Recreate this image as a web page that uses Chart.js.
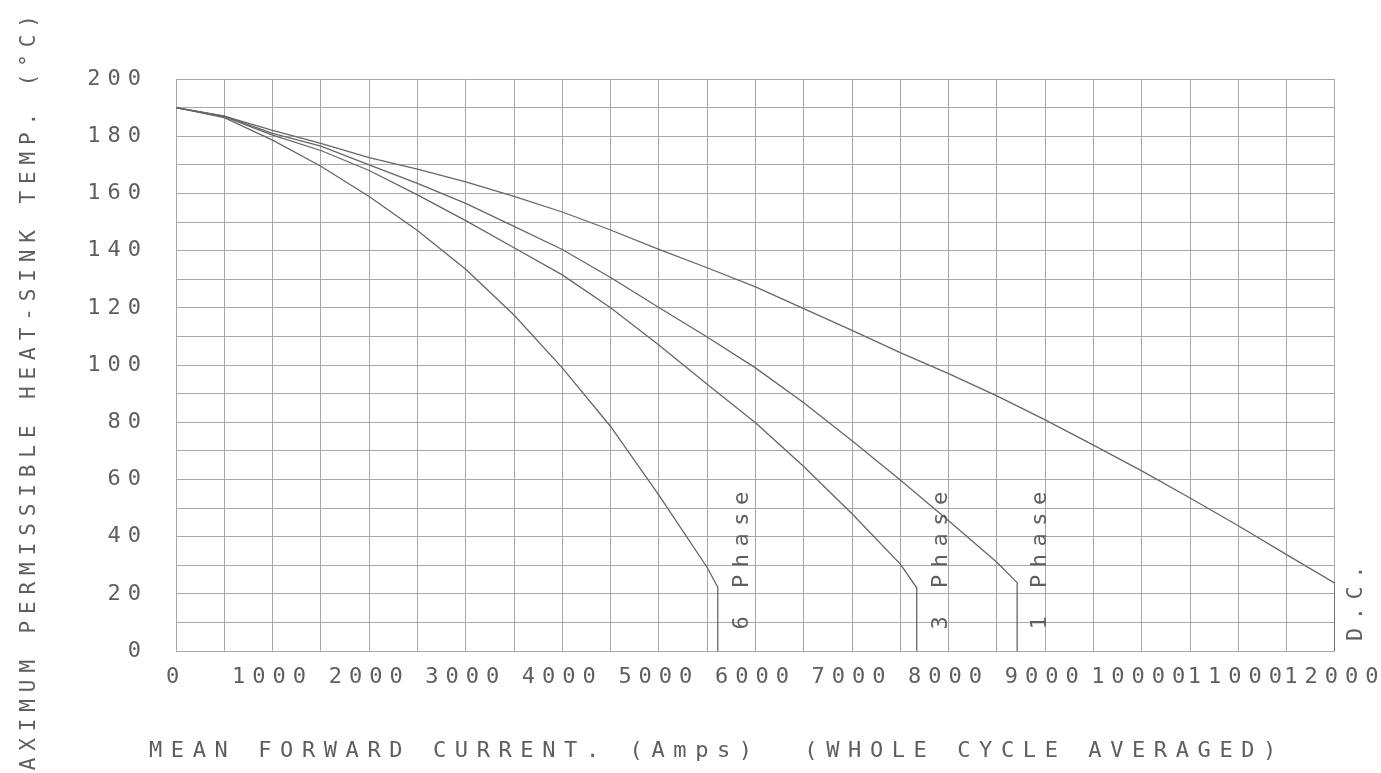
<!DOCTYPE html>
<html>
<head>
<meta charset="utf-8">
<title>Heat-sink temperature vs mean forward current</title>
<script src="https://cdn.jsdelivr.net/npm/chart.js@4.4.1/dist/chart.umd.min.js"></script>
<style>
    html, body { margin: 0; padding: 0; background: #fff; }
    #wrap { width: 1381px; height: 773px; position: relative; }
</style>
</head>
<body>
<div id="wrap"><canvas id="deratingChart" width="1381" height="773"></canvas></div>
<script>
// --- 1. DATA ---
const dcAmps = [0, 500, 1000, 1500, 2000, 2500, 3000, 3500, 4000, 4500, 5000, 5500, 6000, 6500, 7000, 7500, 8000, 8500, 9000, 9500, 10000, 10500, 11000, 11500, 12000, 12000];
const dcTemp = [190, 187, 182, 177.5, 172.5, 168.5, 164, 159, 153.5, 147.2, 140.4, 134, 127.3, 119.7, 112.1, 104.3, 97, 89.2, 80.8, 72, 63, 53.5, 43.8, 33.7, 23.7, 0];

const onePhaseAmps = [0, 500, 1000, 1500, 2000, 2500, 3000, 3500, 4000, 4500, 5000, 5500, 6000, 6500, 7000, 7500, 8000, 8500, 8710, 8710];
const onePhaseTemp = [190, 187, 181, 176.5, 170, 163.5, 156.5, 148.5, 140.4, 130.6, 120.1, 109.8, 99, 86.8, 73.5, 59.8, 45.5, 31, 23.9, 0];

const threePhaseAmps = [0, 500, 1000, 1500, 2000, 2500, 3000, 3500, 4000, 4500, 5000, 5500, 6000, 6500, 7000, 7500, 7670, 7670];
const threePhaseTemp = [190, 186.8, 180.4, 175, 168, 159.5, 150.5, 141, 131.5, 120, 107, 93.3, 79.8, 64.5, 48, 30.4, 22.1, 0];

const sixPhaseAmps = [0, 500, 1000, 1500, 2000, 2500, 3000, 3500, 4000, 4500, 5000, 5500, 5610, 5610];
const sixPhaseTemp = [190, 186.5, 178.6, 169.5, 158.9, 147, 133.5, 117.5, 99, 78.5, 54.5, 29.2, 22.3, 0];

// curve captions, written upwards beside the foot of each curve
const captionText = ['6 Phase', '3 Phase', '1 Phase', 'D.C.'];
const captionAmps = [5860, 7920, 8945, 12225];
const captionTemp = [7.5, 7.5, 7.5, 3.5];

// axis range / ticks
const ampsMin = 0, ampsMax = 12000, ampsStep = 500, ampsLabelEvery = 1000;
const tempMin = 0, tempMax = 200, tempStep = 10, tempLabelEvery = 20;

const xTitle = 'MEAN FORWARD CURRENT. (Amps)  (WHOLE CYCLE AVERAGED)';
const yTitle = 'MAXIMUM PERMISSIBLE HEAT-SINK TEMP. (\u00B0C)';

document.addEventListener('DOMContentLoaded', () => {

    // --- 2. HELPERS ---
    const zip = (xs, ys) => xs.map((x, i) => ({ x: x, y: ys[i] }));
    const PLOT_FONT = '"DejaVu Sans Mono", "Liberation Mono", monospace';
    const INK = '#5e5e5e';
    const LINE = '#666666';
    const GRID = '#a8a8a8';

    const curve = (label, xs, ys) => ({
        label: label,
        data: zip(xs, ys),
        borderColor: LINE,
        borderWidth: 1.3,
        pointRadius: 0,
        tension: 0,
        fill: false
    });

    // --- 3. PLOTTER TEXT (titles + captions) ---
    const plotterText = {
        id: 'plotterText',
        beforeDraw(chart) {
            // widen the tick lettering like the pen plotter did
            chart.ctx.letterSpacing = '7px';
        },
        afterDraw(chart) {
            const ctx = chart.ctx;
            const xs = chart.scales.x;
            const ys = chart.scales.y;

            ctx.save();
            ctx.fillStyle = INK;

            // y title, rotated (runs off the bottom edge like the scan)
            ctx.save();
            ctx.font = '21px ' + PLOT_FONT;
            ctx.letterSpacing = '6.9px';
            ctx.translate(30, 399);
            ctx.rotate(-Math.PI / 2);
            ctx.textAlign = 'center';
            ctx.textBaseline = 'middle';
            ctx.fillText(yTitle, 0, 0);
            ctx.restore();

            // x title
            ctx.save();
            ctx.font = '22px ' + PLOT_FONT;
            ctx.letterSpacing = '8.6px';
            ctx.textAlign = 'left';
            ctx.textBaseline = 'alphabetic';
            ctx.fillText(xTitle, 149, 757);
            ctx.restore();

            // captions next to each curve
            captionText.forEach((txt, i) => {
                const px = xs.getPixelForValue(captionAmps[i]);
                const py = ys.getPixelForValue(captionTemp[i]);
                ctx.save();
                ctx.font = '22px ' + PLOT_FONT;
                ctx.letterSpacing = '7.5px';
                ctx.translate(px, py);
                ctx.rotate(-Math.PI / 2);
                ctx.textAlign = 'left';
                ctx.textBaseline = 'middle';
                ctx.fillText(txt, 0, 0);
                ctx.restore();
            });

            ctx.restore();
            ctx.letterSpacing = '0px';
        }
    };

    // --- 4. CHART SETUP ---
    const ctx = document.getElementById('deratingChart').getContext('2d');
    const deratingChart = new Chart(ctx, {
        type: 'line',
        data: {
            datasets: [
                curve('D.C.', dcAmps, dcTemp),
                curve('1 Phase', onePhaseAmps, onePhaseTemp),
                curve('3 Phase', threePhaseAmps, threePhaseTemp),
                curve('6 Phase', sixPhaseAmps, sixPhaseTemp)
            ]
        },
        options: {
            responsive: false,
            animation: false,
            events: [],
            layout: { padding: { left: 76, top: 79, right: 46, bottom: 82 } },
            plugins: {
                legend: { display: false },
                tooltip: { enabled: false }
            },
            scales: {
                x: {
                    type: 'linear',
                    min: ampsMin,
                    max: ampsMax,
                    afterFit: (scale) => { scale.height = 40; },
                    grid: { color: GRID, lineWidth: 1, drawTicks: false },
                    border: { color: GRID, width: 1 },
                    ticks: {
                        stepSize: ampsStep,
                        autoSkip: false,
                        maxRotation: 0,
                        minRotation: 0,
                        padding: 13,
                        color: INK,
                        font: { family: PLOT_FONT, size: 22 },
                        callback: (v) => (v % ampsLabelEvery === 0 ? String(v) : '')
                    }
                },
                y: {
                    type: 'linear',
                    min: tempMin,
                    max: tempMax,
                    afterFit: (scale) => { scale.width = 100; },
                    grid: { color: GRID, lineWidth: 1, drawTicks: false },
                    border: { color: GRID, width: 1 },
                    ticks: {
                        stepSize: tempStep,
                        autoSkip: false,
                        padding: 28,
                        color: INK,
                        font: { family: PLOT_FONT, size: 22 },
                        callback: (v) => (v % tempLabelEvery === 0 ? String(v) : '')
                    }
                }
            }
        },
        plugins: [plotterText]
    });

    console.log('chart area', deratingChart.chartArea);
});
</script>
</body>
</html>
